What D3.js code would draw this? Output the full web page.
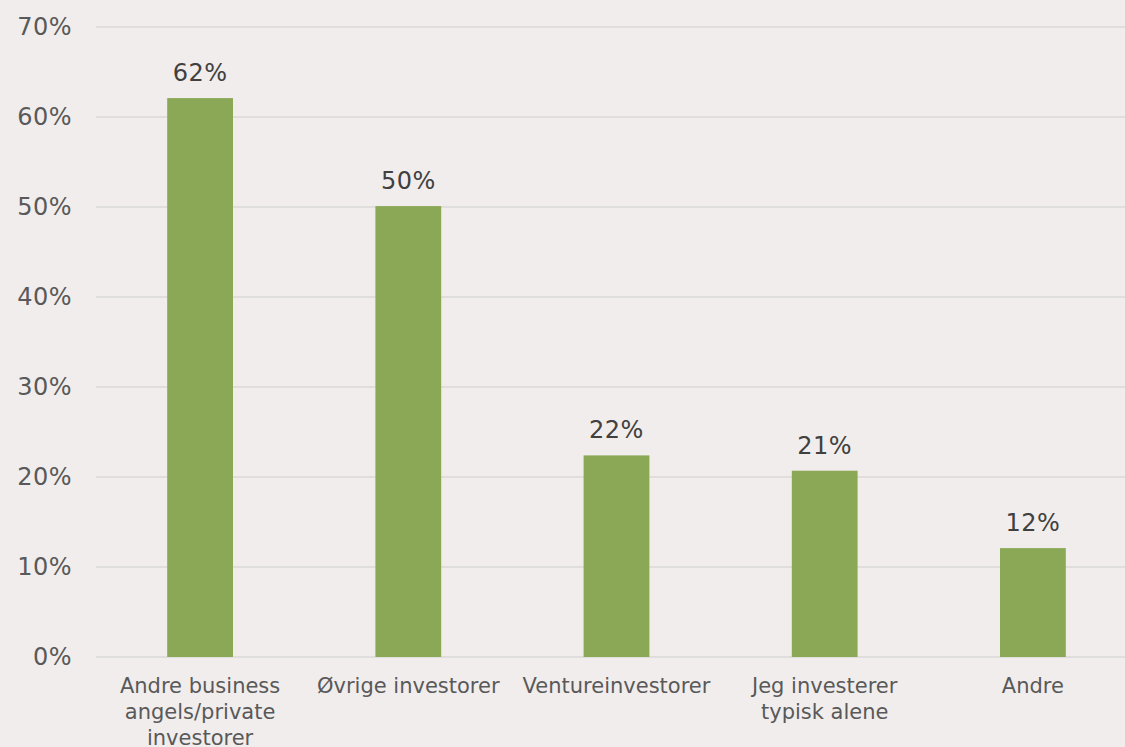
<!DOCTYPE html>
<html>
<head>
<meta charset="utf-8">
<script src="https://cdn.jsdelivr.net/npm/d3@7"></script>
<style>
  body { margin: 0; background: #f1edec; }
  svg { display: block; font-family: Verdana, "DejaVu Sans", sans-serif; }
</style>
</head>
<body>
<svg id="chart" width="1125" height="747"></svg>
<script>
// Data
const categories = [
    ["Andre business", "angels/private", "investorer"],
    ["Øvrige investorer"],
    ["Ventureinvestorer"],
    ["Jeg investerer", "typisk alene"],
    ["Andre"]
];
const values = [0.621, 0.501, 0.224, 0.207, 0.121];
const valueLabels = ["62%", "50%", "22%", "21%", "12%"];
const yTicks = [0, 0.1, 0.2, 0.3, 0.4, 0.5, 0.6, 0.7];

// Layout
const plotLeft = 96, plotRight = 1137, plotTop = 27, plotBottom = 657;

const svg = d3.select("#chart");

const x = d3.scaleBand()
    .domain(d3.range(categories.length))
    .range([plotLeft, plotRight])
    .paddingInner(0.684)
    .paddingOuter(0.342);

const y = d3.scaleLinear().domain([0, 0.7]).range([plotBottom, plotTop]);

// Gridlines
svg.append("g")
    .selectAll("line")
    .data(yTicks)
    .enter().append("line")
    .attr("x1", plotLeft)
    .attr("x2", 1125)
    .attr("y1", d => y(d))
    .attr("y2", d => y(d))
    .attr("stroke", "#d9d9d9")
    .attr("stroke-width", 1.5);

// Y axis labels
svg.append("g")
    .selectAll("text")
    .data(yTicks)
    .enter().append("text")
    .attr("x", 72)
    .attr("y", d => y(d) + 8)
    .attr("text-anchor", "end")
    .attr("fill", "#595959")
    .style("font-size", "24px")
    .style("letter-spacing", "0.5px")
    .text(d => Math.round(d * 100) + "%");

// Bars
svg.append("g")
    .selectAll("rect")
    .data(values)
    .enter().append("rect")
    .attr("x", (d, i) => x(i))
    .attr("y", d => y(d))
    .attr("width", x.bandwidth())
    .attr("height", d => y(0) - y(d))
    .attr("fill", "#8aa856");

// Value labels
svg.append("g")
    .selectAll("text")
    .data(values)
    .enter().append("text")
    .attr("x", (d, i) => x(i) + x.bandwidth() / 2)
    .attr("y", d => y(d) - 17)
    .attr("text-anchor", "middle")
    .attr("fill", "#404040")
    .style("font-size", "24px")
    .style("letter-spacing", "0.5px")
    .text((d, i) => valueLabels[i]);

// Category labels
const cat = svg.append("g")
    .selectAll("text")
    .data(categories)
    .enter().append("text")
    .attr("text-anchor", "middle")
    .attr("fill", "#595959")
    .style("font-size", "21px")
    .attr("transform", (d, i) => `translate(${x(i) + x.bandwidth() / 2},693)`);

cat.selectAll("tspan")
    .data(d => d)
    .enter().append("tspan")
    .attr("x", 0)
    .attr("y", (d, j) => j * 26)
    .text(d => d);
</script>
</body>
</html>
